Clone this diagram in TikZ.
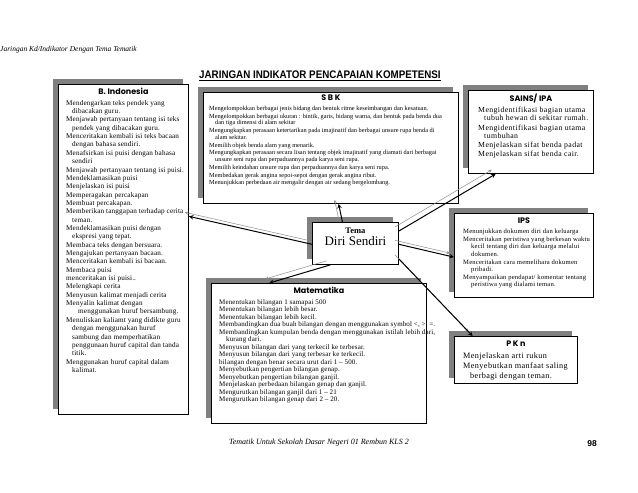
\documentclass[tikz,border=0pt]{standalone}
\usepackage{fontspec}
\setmainfont{Liberation Serif}
\newfontfamily\headfont{Liberation Sans}
\newfontfamily\labelfont{Poppins}
\usepackage{tikz}
\usetikzlibrary{positioning,calc,shadows}
\newcommand{\lanjut}{\hspace*{6pt}}
\newcommand{\isifont}[3]{\fontsize{#1}{#2}\selectfont\addfontfeature{LetterSpace=#3}}
\tikzset{kotak/.style={draw,line width=0.9pt,fill=white,rectangle,inner sep=0pt,anchor=north west,
		drop shadow={shadow xshift=-5pt,shadow yshift=5pt,fill=black!50,opacity=1}},
	judul/.style={font=\labelfont\bfseries\fontsize{8}{9}\selectfont,inner sep=0pt},
	isi/.style={align=left,inner sep=0pt},
	panah/.style={->,>=stealth,line width=1pt},
	bayang/.style={->,>=stealth,line width=0.5pt,black!45,transform canvas={xshift=-4pt,yshift=4pt}}}

\begin{document}
\begin{tikzpicture}[x=1pt,y=-1pt]
	\useasboundingbox (0,0) rectangle (638,493);
	\node[font=\itshape\fontsize{7.5}{9}\selectfont,anchor=west,inner sep=0pt] (kepala) at (0,50) {Jaringan Kd/Indikator Dengan Tema Tematik};
	\node[font=\headfont\bfseries\fontsize{11}{12}\selectfont\addfontfeature{FakeStretch=0.89},anchor=west,inner sep=0pt] (judulutama) at (199,76) {\underline{JARINGAN INDIKATOR PENCAPAIAN KOMPETENSI}};
	% kotak-kotak
	\node[kotak,minimum width=130pt,minimum height=330pt] (bind) at (58,84) {};
	\node[kotak,minimum width=255pt,minimum height=111pt] (sbk) at (203,92) {};
	\node[kotak,minimum width=125pt,minimum height=83pt] (sains) at (468,90) {};
	\node[kotak,minimum width=139pt,minimum height=84pt] (ips) at (454,213) {};
	\node[kotak,minimum width=123pt,minimum height=47pt] (pkn) at (454,336) {};
	\node[kotak,minimum width=215pt,minimum height=140pt] (mtk) at (211,283) {};
	\node[kotak,minimum width=86pt,minimum height=42pt] (tema) at (312,222) {};
	% B. Indonesia
	\node[judul,below=4pt of bind.north] (bindjudul) {B. Indonesia};
	\node[isi,font=\isifont{7.2}{8.35}{2},below right=16pt and 8pt of bind.north west] (bindisi) {%
		Mendengarkan teks pendek yang\\
		\lanjut dibacakan guru.\\
		Menjawab pertanyaan tentang isi teks\\
		\lanjut pendek yang dibacakan guru.\\
		Menceritakan kembali isi teks bacaan\\
		\lanjut dengan bahasa sendiri.\\
		Menafsirkan isi puisi dengan bahasa\\
		\lanjut sendiri\\
		Menjawab pertanyaan tentang isi puisi.\\
		Mendeklamasikan puisi\\
		Menjelaskan isi puisi\\
		Memperagakan percakapan\\
		Membuat percakapan.\\
		Memberikan tanggapan terhadap cerita\\
		\lanjut teman.\\
		Mendeklamasikan puisi dengan\\
		\lanjut ekspresi yang tepat.\\
		Membaca teks dengan bersuara.\\
		Mengajukan pertanyaan bacaan.\\
		Menceritakan kembali isi bacaan.\\
		Membaca puisi\\
		menceritakan isi puisi..\\
		Melengkapi cerita\\
		Menyusun kalimat  menjadi cerita\\
		Menyalin kalimat dengan\\
		\hspace*{12pt}menggunakan huruf bersambung.\\
		Menuliskan kaliamt yang didikte guru\\
		\lanjut dengan menggunakan huruf\\
		\lanjut sambung dan memperhatikan\\
		\lanjut penggunaan huruf capital dan tanda\\
		\lanjut titik.\\
		Menggunakan huruf capital dalam\\
		\lanjut kalimat.};
	% S B K
	\node[judul,below=3pt of sbk.north] (sbkjudul) {S B K};
	\node[isi,font=\isifont{6.3}{6.6}{0},below right=14pt and 6pt of sbk.north west] (sbkisi) {%
		Mengelompokkan berbagai jenis bidang dan bentuk ritme keseimbangan dan kesatuan.\\[1.2pt]
		Mengelompokkan berbagai ukuran : bintik, garis, bidang warna, dan bentuk pada benda dua\\
		\lanjut dan tiga dimensi di alam sekitar\\[1.2pt]
		Mengungkapkan perasaan ketertarikan pada imajinatif dan berbagai unsure rupa benda di\\
		\lanjut alam sekitar.\\[1.2pt]
		Memilih objek benda alam yang menarik.\\[1.2pt]
		Mengungkapkan perasaan secara lisan tentang objek imajinatif yang diamati dari berbagai\\
		\lanjut unsure seni rupa dan perpaduannya pada karya seni rupa.\\[1.2pt]
		Memilih keindahan unsure rupa dan perpaduannya dan karya seni rupa.\\[1.2pt]
		Membedakan gerak angina sepoi-sepoi dengan gerak angina ribut.\\[1.2pt]
		Menunjukkan perbedaan air mengalir dengan air sedang bergelombang.};
	% SAINS/ IPA
	\node[judul,below=4pt of sains.north] (sainsjudul) {SAINS/ IPA};
	\node[isi,font=\isifont{7.8}{8.3}{5},below right=17pt and 10pt of sains.north west] (sainsisi) {%
		Mengidentifikasi bagian utama\\
		\lanjut tubuh hewan di sekitar rumah.\\[1pt]
		Mengidentifikasi bagian utama\\
		\lanjut tumbuhan\\[1pt]
		Menjelaskan sifat benda padat\\
		Menjelaskan sifat benda cair.};
	% IPS
	\node[judul,below=5pt of ips.north] (ipsjudul) {IPS};
	\node[isi,font=\isifont{6.6}{7.6}{3},below right=16pt and 9pt of ips.north west] (ipsisi) {%
		Menunjukkan dokumen diri dan keluarga\\
		Menceritakan peristiwa yang berkesan  waktu\\
		\hspace*{8pt}kecil tentang diri dan keluarga melalui\\
		\hspace*{8pt}dokumen.\\
		Menceritakan cara memelihara dokumen\\
		\hspace*{8pt}pribadi.\\
		Menyampaikan pendapat/ komentar tentang\\
		\hspace*{8pt}peristiwa yang dialami teman.};
	% P K n
	\node[judul,below=5pt of pkn.north] (pknjudul) {P K n};
	\node[isi,font=\isifont{8.2}{9.6}{5},below right=17pt and 9pt of pkn.north west] (pknisi) {%
		Menjelaskan arti rukun\\
		Menyebutkan manfaat saling\\
		\hspace*{7pt}berbagi dengan teman.};
	% Matematika
	\node[judul,below=4pt of mtk.north] (mtkjudul) {Matematika};
	\node[isi,font=\isifont{7}{7.5}{2},below right=16pt and 8pt of mtk.north west] (mtkisi) {%
		Menentukan bilangan 1 samapai 500\\
		Menentukan bilangan lebih besar.\\
		Menentukan bilangan lebih kecil.\\
		Membandingkan dua buah bilangan dengan menggunakan symbol <, >, =.\\
		Membandingkan kumpulan benda dengan menggunakan istilah lebih dari,\\
		\hspace*{7pt}kurang dari.\\
		Menyusun bilangan dari yang terkecil ke terbesar.\\
		Menyusun bilangan dari yang terbesar ke terkecil.\\
		bilangan dengan benar secara urut dari 1 -- 500.\\
		Menyebutkan pengertian bilangan genap.\\
		Menyebutkan pengertian bilangan ganjil.\\
		Menjelaskan perbedaan bilangan genap dan ganjil.\\
		Mengurutkan bilangan ganjil dari 1 -- 21\\
		Mengurutkan bilangan genap dari 2 -- 20.};
	% Tema
	\node[font=\bfseries\fontsize{8.5}{10}\selectfont,inner sep=0pt,below=6pt of tema.north] (temajudul) {Tema};
	\node[font=\fontsize{13}{15}\selectfont,inner sep=0pt,below=2pt of temajudul] (temaisi) {Diri Sendiri};
	% panah
	\draw[bayang] ($(tema.north west)!0.35!(tema.north east)$) -- ($(sbk.south west)!0.53!(sbk.south east)$);
	\draw[panah] ($(tema.north west)!0.35!(tema.north east)$) -- ($(sbk.south west)!0.53!(sbk.south east)$);
	\draw[bayang] ($(tema.north east)!0.21!(tema.south east)$) -- ($(sains.south west)!0.22!(sains.south east)$);
	\draw[panah] ($(tema.north east)!0.21!(tema.south east)$) -- ($(sains.south west)!0.22!(sains.south east)$);
	\draw[bayang] ($(tema.north east)!0.52!(tema.south east)$) -- ($(ips.north west)!0.52!(ips.south west)$);
	\draw[panah] ($(tema.north east)!0.52!(tema.south east)$) -- ($(ips.north west)!0.52!(ips.south west)$);
	\draw[bayang] ($(tema.north east)!0.86!(tema.south east)$) -- ($(pkn.north west)!0.15!(pkn.north east)$);
	\draw[panah] ($(tema.north east)!0.86!(tema.south east)$) -- ($(pkn.north west)!0.15!(pkn.north east)$);
	\draw[bayang] ($(tema.south west)!0.21!(tema.south east)$) -- ($(mtk.north west)!0.27!(mtk.north east)$);
	\draw[panah] ($(tema.south west)!0.21!(tema.south east)$) -- ($(mtk.north west)!0.27!(mtk.north east)$);
	\draw[bayang] ($(tema.north west)!0.52!(tema.south west)$) -- ($(bind.north east)!0.40!(bind.south east)$);
	\draw[panah] ($(tema.north west)!0.52!(tema.south west)$) -- ($(bind.north east)!0.40!(bind.south east)$);
	% kaki halaman
	\node[font=\itshape\fontsize{8}{10}\selectfont] (kaki) at (319,443) {Tematik Untuk Sekolah Dasar Negeri 01 Rembun KLS 2};
	\node[font=\headfont\bfseries\fontsize{8.5}{10}\selectfont] (halaman) at (592,444) {98};
\end{tikzpicture}
\end{document}
